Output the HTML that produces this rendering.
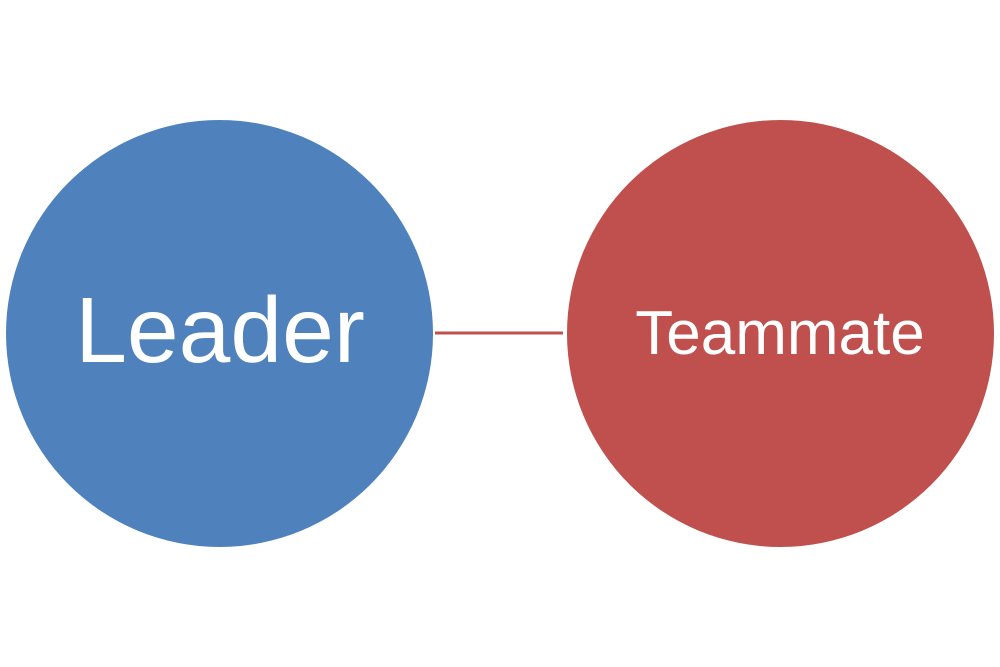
<!DOCTYPE html>
<html><head><style>
html,body{margin:0;padding:0;background:#fff;}
svg{display:block;}
</style></head><body>
<svg width="1000" height="667" viewBox="0 0 1000 667">
<circle cx="219.5" cy="333.5" r="213.5" fill="#4f81bd"/>
<circle cx="780.5" cy="333.5" r="213.5" fill="#c0504d"/>
<rect x="435" y="331.5" width="128" height="3" fill="#c0504d"/>
<text x="220" y="362" text-anchor="middle" font-family="Liberation Sans, sans-serif" font-size="93" fill="#fff">Leader</text>
<text x="780" y="354" text-anchor="middle" font-family="Liberation Sans, sans-serif" font-size="62" fill="#fff">Teammate</text>
</svg>
</body></html>
